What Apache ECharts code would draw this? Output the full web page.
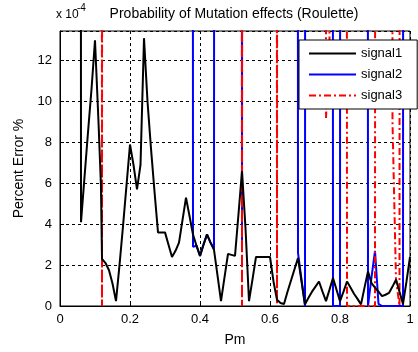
<!DOCTYPE html>
<html><head><meta charset="utf-8">
<script src="https://cdn.jsdelivr.net/npm/echarts/dist/echarts.min.js"></script>
<style>html,body{margin:0;padding:0;background:#fff}#c{width:418px;height:352px}</style>
</head><body><div id="c"></div>
<script>
const titleText = 'Probability of Mutation effects (Roulette)';
const xName = 'Pm';
const yName = 'Percent Error %';
const xTicks = [0, 0.2, 0.4, 0.6, 0.8, 1];
const yTicks = [0, 2, 4, 6, 8, 10, 12];
const seriesNames = ['signal1', 'signal2', 'signal3'];

// signal1 (black)
const x1 = [0, 0.05, 0.06, 0.07, 0.08, 0.09, 0.10, 0.11, 0.117, 0.12, 0.13, 0.14, 0.15, 0.16, 0.17, 0.18, 0.19, 0.20,
  0.21, 0.22, 0.23, 0.24, 0.25, 0.26, 0.27, 0.28, 0.29, 0.30, 0.31, 0.32, 0.33, 0.34, 0.35, 0.36, 0.37, 0.38, 0.39, 0.40,
  0.41, 0.42, 0.43, 0.44, 0.45, 0.46, 0.47, 0.48, 0.49, 0.50, 0.51, 0.52, 0.53, 0.54, 0.55, 0.56, 0.57, 0.58, 0.59, 0.60,
  0.61, 0.62, 0.63, 0.64, 0.65, 0.66, 0.67, 0.68, 0.69, 0.70, 0.71, 0.72, 0.73, 0.74, 0.75, 0.76, 0.77, 0.78, 0.79, 0.80,
  0.81, 0.82, 0.83, 0.84, 0.85, 0.86, 0.87, 0.88, 0.89, 0.90, 0.91, 0.92, 0.93, 0.94, 0.95, 0.96, 0.97, 0.98, 0.99, 1.00];
const y1 = [500, 500, 4.1, 6.3, 8.5, 10.6, 13.0, 9.0, 5.9, 2.3, 2.1, 1.75, 1.1, 0.24, 2.0, 3.9, 5.9, 7.9,
  6.9, 5.7, 6.9, 13.1, 10.0, 7.7, 5.6, 3.6, 3.6, 3.6, 3.0, 2.4, 2.7, 3.1, 4.2, 5.3, 4.4, 3.5, 2.95, 2.45,
  3.0, 3.5, 3.1, 2.75, 1.5, 0.24, 1.4, 2.55, 2.5, 2.45, 4.5, 6.6, 3.8, 0.24, 1.3, 2.4, 2.4, 2.4, 2.4, 2.4,
  1.2, 0.3, 0.15, 0.1, 0.7, 1.25, 1.8, 2.35, 1.2, 0.08, 0.4, 0.7, 0.95, 1.2, 0.7, 0.24, 0.8, 1.37, 0.8, 0.24,
  0.7, 1.2, 0.9, 0.6, 0.35, 0.08, 0.9, 1.69, 1.12, 0.9, 0.7, 0.48, 0.55, 0.64, 0.95, 1.29, 0.7, 0.1, 1.2, 2.4];

// signal2 (blue)
const x2 = [0, 0.37, 0.38, 0.39, 0.40, 0.41, 0.42, 0.43, 0.44, 0.45, 0.51, 0.52, 0.53, 0.67, 0.68, 0.69, 0.70, 0.71,
  0.77, 0.78, 0.79, 0.80, 0.81, 0.87, 0.88, 0.89, 0.90, 0.91, 0.92, 0.93, 0.94, 0.95, 0.96, 0.97, 0.98, 0.99, 1.00];
const y2 = [500, 500, 2.9, 2.95, 2.45, 3.0, 3.5, 3.1, 2.8, 500, 500, 2.9, 500, 500, 2.6, 1.3, 0, 500,
  500, 0, 0, 0, 500, 500, 0, 1.4, 2.7, 0.1, 0, 0, 0, 0, 0, 0, 0, 500, 500];

// signal3 (red dash-dot)
const x3 = [0, 0.11, 0.12, 0.13, 0.51, 0.52, 0.53, 0.61, 0.62, 0.63, 0.75, 0.76, 0.77, 0.78, 0.81, 0.82, 0.83, 0.84,
  0.85, 0.86, 0.87, 0.88, 0.89, 0.90, 0.91, 0.94, 0.95, 0.96, 0.97, 0.98, 1.00];
const y3 = [500, 500, 0, 500, 500, 0, 500, 500, 0.1, 500, 500, 9.2, 13, 500, 500, 0, 0, 0,
  0, 0, 0, 0, 0, 0, 500, 500, 9.0, 1.3, 0, 500, 500];

const FONT = '"Liberation Sans", Arial, sans-serif';
const pairs = (xs, ys) => xs.map((x, i) => [x, ys[i]]);

const chart = echarts.init(document.getElementById('c'), null, {renderer: 'canvas'});
chart.setOption({
  animation: false,
  backgroundColor: '#fff',
  grid: {left: 60, right: 8, top: 31, bottom: 42, show: true, borderColor: '#000', borderWidth: 1, backgroundColor: '#fff'},
  xAxis: {
    type: 'value', min: xTicks[0], max: xTicks[xTicks.length - 1], interval: 0.2,
    name: xName, nameLocation: 'middle', nameGap: 27,
    nameTextStyle: {color: '#000', fontSize: 14, fontFamily: FONT},
    axisLine: {show: true, lineStyle: {color: '#000', width: 1}},
    axisTick: {show: true, inside: true, length: 4, lineStyle: {color: '#000'}},
    axisLabel: {color: '#000', fontSize: 13, fontFamily: FONT, margin: 7,
      formatter: v => { const t = xTicks.find(k => Math.abs(k - v) < 1e-6); return t === undefined ? '' : String(t); }},
    splitLine: {show: true, lineStyle: {color: '#000', width: 1, type: [3, 3]}}
  },
  yAxis: {
    type: 'value', min: 0, max: 13.45, interval: 2,
    name: yName, nameLocation: 'middle', nameGap: 33,
    nameTextStyle: {color: '#000', fontSize: 14, fontFamily: FONT},
    axisLine: {show: true, lineStyle: {color: '#000', width: 1}},
    axisTick: {show: true, inside: true, length: 4, lineStyle: {color: '#000'}},
    axisLabel: {color: '#000', fontSize: 13, fontFamily: FONT, margin: 8, showMaxLabel: false,
      formatter: v => { const t = yTicks.find(k => Math.abs(k - v) < 1e-6); return t === undefined ? '' : String(t); }},
    splitLine: {show: true, lineStyle: {color: '#000', width: 1, type: [3, 3]}}
  },
  legend: {
    orient: 'vertical', left: 299, top: 40, z: 10,
    itemWidth: 47, itemHeight: 14, itemGap: 8,
    padding: [7, 15, 7, 9],
    backgroundColor: '#fff', borderColor: '#000', borderWidth: 1, borderRadius: 0,
    itemStyle: {opacity: 0},
    textStyle: {color: '#000', fontSize: 13, fontFamily: FONT},
    data: seriesNames
  },
  graphic: [
    {type: 'text', x: 234, y: 14, z: 100, style: {text: titleText, font: '14px ' + FONT, fill: '#000', align: 'center', textAlign: 'center', verticalAlign: 'middle', textVerticalAlign: 'middle'}},
    {type: 'text', x: 56, y: 15, z: 100, style: {text: 'x 10', font: '12px ' + FONT, fill: '#000', align: 'left', textAlign: 'left', verticalAlign: 'middle', textVerticalAlign: 'middle'}},
    {type: 'text', x: 77, y: 8, z: 100, style: {text: '-4', font: '10px ' + FONT, fill: '#000', align: 'left', textAlign: 'left', verticalAlign: 'middle', textVerticalAlign: 'middle'}}
  ],
  series: [
    {name: seriesNames[0], type: 'line', z: 4, data: pairs(x1, y1), symbol: 'none', showSymbol: false, clip: true,
      lineStyle: {color: '#000', width: 2}, itemStyle: {color: '#000'}},
    {name: seriesNames[1], type: 'line', z: 2, data: pairs(x2, y2), symbol: 'none', showSymbol: false, clip: true,
      lineStyle: {color: '#0000ff', width: 2}, itemStyle: {color: '#0000ff'}},
    {name: seriesNames[2], type: 'line', z: 3, data: pairs(x3, y3), symbol: 'none', showSymbol: false, clip: true,
      lineStyle: {color: '#ff0000', width: 2, type: [7, 3, 2, 3]}, itemStyle: {color: '#ff0000'}}
  ]
});
</script>
</body></html>
